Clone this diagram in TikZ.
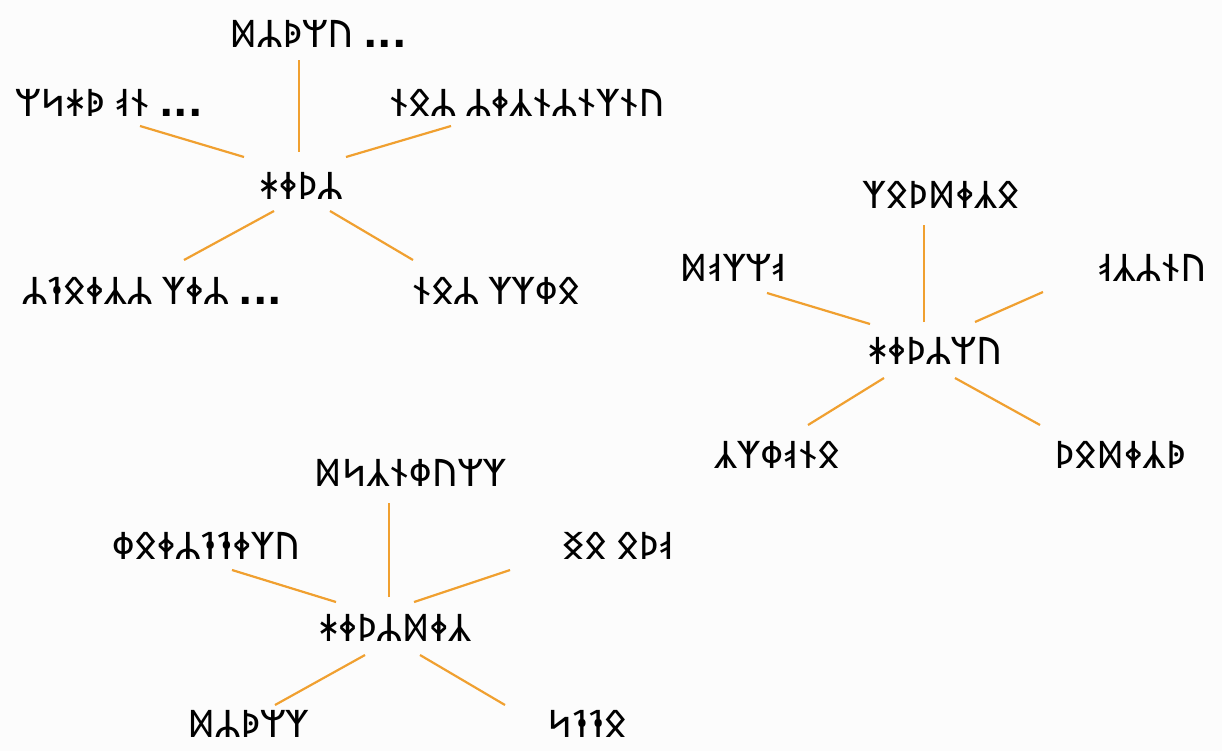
\documentclass[tikz,border=0pt]{standalone}
\usepackage{fontspec}
\newfontfamily\runefam{Noto Sans Runic}
\newfontfamily\dotfam{DejaVu Sans}
\newcommand\myrunes{\runefam\fontsize{38}{40}\selectfont}
\newcommand\mydots{{\dotfam\bfseries ...}}
\definecolor{linkc}{RGB}{240,160,48}
\definecolor{bgc}{RGB}{252,252,252}
\tikzset{
  lbl/.style={font=\myrunes, inner sep=0pt, anchor=center, text=black},
  link/.style={draw=linkc, line width=2.2pt}
}
\begin{document}
\begin{tikzpicture}[x=1pt,y=-1pt]
\fill[bgc] (0,0) rectangle (1222,751);
\useasboundingbox (0,0) rectangle (1222,751);
% ---- map 1
\node[lbl] (c1)  at (301,186) {ᚼᛄᚦᛦ};
\node[lbl] (t1)  at (318,34)  {ᛞᛦᚧᛘᚢ \mydots};
\node[lbl] (ul1) at (109,103) {ᛘᛋᚼᚧ ᚮᚾ \mydots};
\node[lbl] (ur1) at (527,103) {ᚾᛟᛦ ᛦᛄᛣᚾᛦᚾᛉᚾᚢ};
\node[lbl] (ll1) at (152,291) {ᛦᛑᛟᛄᛣᛦ ᛉᛄᛦ \mydots};
\node[lbl] (lr1) at (496,291) {ᚾᛟᛦ ᛉᛉᛰᛟ};
\draw[link] ([shift={(-2,-34)}]c1.center) -- ([shift={(-19,26)}]t1.center);
\draw[link] ([shift={(-57,-29)}]c1.center) -- ([shift={(31,23)}]ul1.center);
\draw[link] ([shift={(45,-29)}]c1.center) -- ([shift={(-76,23)}]ur1.center);
\draw[link] ([shift={(-27,25)}]c1.center) -- ([shift={(32,-31)}]ll1.center);
\draw[link] ([shift={(29,25)}]c1.center) -- ([shift={(-83,-31)}]lr1.center);
% ---- map 2
\node[lbl] (c2)  at (935,351)  {ᚼᛄᚦᛦᛘᚢ};
\node[lbl] (t2)  at (941,195)  {ᛉᛟᚦᛞᛄᛣᛟ};
\node[lbl] (l2)  at (733,268)  {ᛞᚮᛉᛘᚮ};
\node[lbl] (r2)  at (1152,268) {ᚮᛣᛦᚾᚢ};
\node[lbl] (ll2) at (777,455)  {ᛣᛉᛰᚮᚾᛟ};
\node[lbl] (lr2) at (1120,455) {ᚦᛟᛞᛄᛣᚧ};
\draw[link] ([shift={(-11,-29)}]c2.center) -- ([shift={(-17,30)}]t2.center);
\draw[link] ([shift={(-65,-27)}]c2.center) -- ([shift={(34,25)}]l2.center);
\draw[link] ([shift={(40,-29)}]c2.center) -- ([shift={(-109,24)}]r2.center);
\draw[link] ([shift={(-51,27)}]c2.center) -- ([shift={(31,-30)}]ll2.center);
\draw[link] ([shift={(20,27)}]c2.center) -- ([shift={(-80,-30)}]lr2.center);
% ---- map 3
\node[lbl] (c3)  at (395,628) {ᚼᛄᚦᛦᛞᛄᛣ};
\node[lbl] (t3)  at (410,473) {ᛞᛋᛣᚾᛰᚢᛘᛉ};
\node[lbl] (l3)  at (206,546) {ᛰᛟᛄᛦᛑᛑᛄᛉᚢ};
\node[lbl] (r3)  at (618,546) {ᛝᛟ ᛟᚦᚮ};
\node[lbl] (ll3) at (248,724) {ᛞᛦᚧᛘᛉ};
\node[lbl] (lr3) at (587,724) {ᛋᛑᛑᛟ};
\draw[link] ([shift={(-6,-31)}]c3.center) -- ([shift={(-21,30)}]t3.center);
\draw[link] ([shift={(-59,-26)}]c3.center) -- ([shift={(26,24)}]l3.center);
\draw[link] ([shift={(19,-26)}]c3.center) -- ([shift={(-108,24)}]r3.center);
\draw[link] ([shift={(-30,27)}]c3.center) -- ([shift={(27,-19)}]ll3.center);
\draw[link] ([shift={(25,27)}]c3.center) -- ([shift={(-82,-19)}]lr3.center);
\end{tikzpicture}
\end{document}
